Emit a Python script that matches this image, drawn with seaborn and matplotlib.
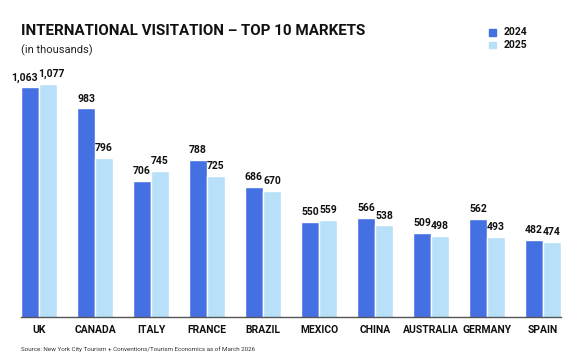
import matplotlib
matplotlib.use("Agg")
import matplotlib.pyplot as plt
import pandas as pd
import seaborn as sns

markets = ["UK", "CANADA", "ITALY", "FRANCE", "BRAZIL",
           "MEXICO", "CHINA", "AUSTRALIA", "GERMANY", "SPAIN"]
visits_2024 = [1063, 983, 706, 788, 686, 550, 566, 509, 562, 482]
visits_2025 = [1077, 796, 745, 725, 670, 559, 538, 498, 493, 474]
years = ["2024", "2025"]

palette = {"2024": "#4470E2", "2025": "#B8E0F8"}

df = pd.DataFrame({
    "market": markets * 2,
    "year": ["2024"] * len(markets) + ["2025"] * len(markets),
    "visits": visits_2024 + visits_2025,
})

sns.set_theme(style="white")
plt.rcParams["font.family"] = ["Roboto", "DejaVu Sans"]

fig = plt.figure(figsize=(5.77, 3.6), dpi=100)
ax = fig.add_axes([0.0364, 0.1194, 0.9359, 0.6794])

sns.barplot(data=df, x="market", y="visits", hue="year", palette=palette,
            width=0.644, gap=0, saturation=1, ax=ax, legend=False)

# value labels; the two UK labels are nudged apart so they don't collide
for cont, yr in zip(ax.containers, years):
    for i, bar in enumerate(cont):
        val = bar.get_height()
        dx = 0
        if i == 0:
            dx = -4 if yr == "2024" else 2
        ax.annotate(f"{int(val):,}", (bar.get_x() + bar.get_width() / 2, val),
                    xytext=(dx, 3.5), textcoords="offset points",
                    ha="center", va="bottom", fontsize=7.5,
                    fontweight="bold", color="#111111")

ax.set_ylim(190, 1120)
ax.set_xlim(-0.322, 9.322)
ax.set_xlabel("")
ax.set_ylabel("")
ax.set_yticks([])
for s in ["top", "right", "left"]:
    ax.spines[s].set_visible(False)
ax.spines["bottom"].set_color("#555555")
ax.spines["bottom"].set_linewidth(1)
ax.tick_params(axis="x", length=0, pad=6)
for lbl in ax.get_xticklabels():
    lbl.set_fontweight("bold")
    lbl.set_fontsize(7.5)
    lbl.set_color("#111111")

fig.text(0.0364, 0.913, "INTERNATIONAL VISITATION – TOP 10 MARKETS",
         fontsize=10.9, fontweight="bold", color="#111111", va="center")
fig.text(0.0364, 0.861, "(in thousands)", fontsize=8, color="#222222",
         va="center")
fig.text(0.0364, 0.03, "Source: New York City Tourism + Conventions/Tourism Economics as of March 2026",
         fontsize=4.5, color="#333333", va="center")

# legend: small squares with bold year labels, top right
for k, yr in enumerate(years):
    y = 0.911 - k * 0.036
    fig.patches.append(plt.Rectangle((0.8475, y - 0.0097), 0.0121, 0.0194,
                                     transform=fig.transFigure,
                                     color=palette[yr]))
    fig.text(0.873, y, yr, fontsize=7.5, fontweight="bold",
             color="#111111", va="center")

fig.savefig("out.png", dpi=100)
